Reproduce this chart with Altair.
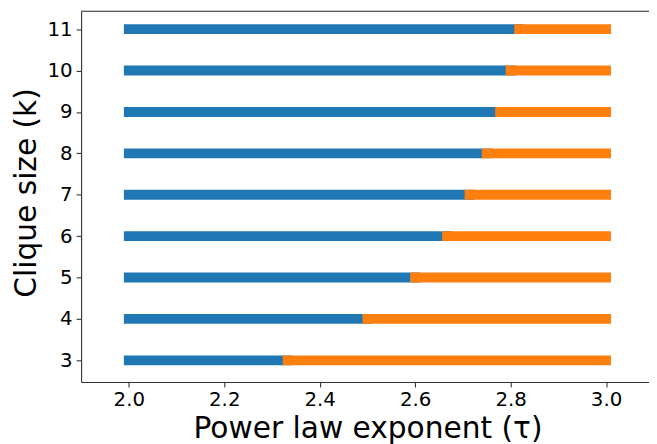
import altair as alt
import pandas as pd

# Data
k_values = [3, 4, 5, 6, 7, 8, 9, 10, 11]
threshold = [2.333, 2.5, 2.6, 2.667, 2.714, 2.75, 2.778, 2.8, 2.818]
tau_min = [2.0, 2.0, 2.0, 2.0, 2.0, 2.0, 2.0, 2.0, 2.0]
tau_max = [3.0, 3.0, 3.0, 3.0, 3.0, 3.0, 3.0, 3.0, 3.0]
x_ticks = [2.0, 2.2, 2.4, 2.6, 2.8, 3.0]
y_ticks = [3, 4, 5, 6, 7, 8, 9, 10, 11]

df = pd.DataFrame({"k": k_values, "lo": tau_min, "thr": threshold, "hi": tau_max})

FONT = "DejaVu Sans"
AX = dict(
    domainColor="#333333", domainWidth=1.1,
    tickColor="#333333", tickWidth=1.1, tickSize=5,
    labelFont=FONT, labelFontSize=20, labelColor="black",
    titleFont=FONT, titleFontWeight="normal", titleColor="black",
    grid=False,
)

xscale = alt.Scale(domain=[1.9, 3.09], nice=False, zero=False)
yscale = alt.Scale(domain=[2.475, 11.446], nice=False, zero=False)

y_enc = alt.Y("k:Q", scale=yscale,
              axis=alt.Axis(values=y_ticks, format="d", title="Clique size (k)",
                            labelPadding=4, titlePadding=6, titleFontSize=30,
                            titleY=184, **AX))

blue = alt.Chart(df).mark_rule(color="#1f77b4", strokeWidth=10, strokeCap="square").encode(
    x=alt.X("lo:Q", scale=xscale,
            axis=alt.Axis(values=x_ticks, format=".1f", title="Power law exponent (τ)",
                          orient="bottom", labelPadding=3, titlePadding=4, titleX=290,
                          titleFontSize=30, **AX)),
    x2="thr:Q",
    y=y_enc,
)

orange = alt.Chart(df).mark_rule(color="#ff7f0e", strokeWidth=10, strokeCap="square").encode(
    x=alt.X("thr:Q", scale=xscale,
            axis=alt.Axis(orient="top", labels=False, ticks=False, title="",
                          domainColor="#333333", domainWidth=1.1, grid=False)),
    x2="hi:Q",
    y=y_enc,
)

chart = alt.layer(blue, orange).resolve_axis(x="independent").properties(
    width=575, height=376,
    autosize=alt.AutoSizeParams(type="none"),
    padding={"left": 74, "top": 0, "right": 0, "bottom": 60},
).configure_view(stroke=None).configure(background="white")

chart.save("out.html", embed_options={"renderer": "svg", "actions": False})
